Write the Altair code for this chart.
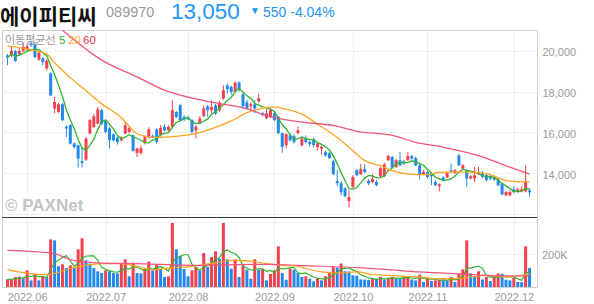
import altair as alt
import pandas as pd

# ---------------- data ----------------
opens = [19770,19790,19990,19840,20000,20080,20380,20330,19580,19640,
         19140,18900,17170,17000,17380,16270,16350,15460,15370,14580,
         14660,15940,16270,16430,17090,16600,16190,15900,15740,15610,
         15940,16020,15860,14990,14990,15480,15770,15830,16140,15860,
         16270,16100,16270,17000,17330,16760,16710,16600,16100,16430,
         16810,17280,17090,17330,17090,17660,18310,18230,17990,18450,
         17870,17480,17280,17380,17530,16940,16690,16760,16940,16760,
         15960,15370,15860,15810,15960,15370,15710,15530,15660,15280,
         15200,15020,14970,14580,13600,13500,13250,12630,13320,14140,
         13940,14190,13620,13560,13560,13840,13840,14630,14790,14300,
         14630,14580,14630,14830,14730,14380,13940,14050,13980,13560,
         13350,13780,13780,14140,14000,14870,14220,14140,13730,13730,
         13940,14000,13890,13840,13810,13680,13480,12910,12910,13200,
         13070,13100,13100,13150]
highs = [19850,20200,20050,20150,20400,20350,20500,20450,20000,19700,
         19600,18950,17740,17450,17450,16350,16400,15500,15400,15280,
         15750,16650,16900,17250,17150,16650,16250,15950,15800,15800,
         16500,16300,15900,15250,15350,15850,16250,15900,16200,16350,
         16400,16350,17580,17050,17400,16850,16800,16650,16350,16800,
         17330,17350,17580,17400,17550,18310,18400,18300,18500,18500,
         17950,17600,17480,17580,17900,17000,17150,17200,17050,16800,
         16000,15950,15950,15900,16300,15750,15850,15600,15750,15500,
         15350,15100,15050,14650,14140,13600,13300,13150,13900,14200,
         14450,14450,13700,13950,13650,14300,14500,14900,14850,14700,
         15040,14650,15040,14900,14800,14450,14150,14100,14050,13650,
         13500,13850,14050,14470,14200,14950,14450,14180,13900,14300,
         14300,14100,14000,13900,13900,13750,13500,13150,13150,13350,
         13300,13350,14380,13250]
lows = [19300,19700,19450,19800,19950,20000,20200,19650,19500,19300,
        19050,17780,16940,16950,16550,15770,15400,15200,14270,14270,
        14600,15900,16200,16400,16350,15950,15200,15550,15400,15550,
        15900,15950,15050,14790,14900,15400,15700,15700,15450,15800,
        16050,16050,16200,16700,16550,16550,16600,15940,15700,16400,
        16750,16760,16920,16850,17000,17600,17900,17850,17950,18000,
        17200,17100,16980,16950,17450,16800,16650,16700,16550,15900,
        15000,15200,15550,15450,15900,15300,15450,15300,15250,15100,
        14900,14800,14700,13900,13350,12900,12800,12300,13250,13850,
        13900,14000,13400,13500,13350,13800,13800,14600,14250,14250,
        14350,14400,14600,14650,14350,13700,13900,13750,13400,13350,
        13100,13600,13750,14000,13950,14350,14200,13320,13700,13550,
        13900,13750,13600,13650,13600,13350,12900,12850,12850,13000,
        13050,13050,13050,12830]
closes = [19680,20000,19510,20000,20200,20230,20280,19700,19900,19460,
          19510,17820,17490,17380,16600,16190,15450,15280,14710,14500,
          15700,16600,16790,17130,16430,16020,15610,15610,15530,15710,
          16350,16200,15090,15200,15220,15770,16140,15780,15530,16220,
          16100,16270,17090,16760,16600,16630,16640,16020,16270,16680,
          17170,17090,17250,16920,17460,18070,18120,17990,18450,18070,
          17280,17180,17380,17180,17680,16840,16940,17090,16600,15960,
          15280,15910,15610,15530,16100,15710,15530,15420,15370,15460,
          15280,14870,14730,13940,13500,13060,12860,12820,13810,13890,
          14190,14050,13490,13700,13400,14240,14430,14830,14270,14630,
          14380,14470,14830,14710,14380,13940,14050,13810,13840,13400,
          13450,13650,14000,14050,14140,14380,14380,13730,13840,13890,
          14050,13810,13650,13730,13680,13400,12960,13070,13070,13070,
          13200,13200,13600,13050]
volumes_k = [47,48,62,64,55,103,41,82,41,62,60,294,288,128,140,117,134,117,233,301,
             165,144,117,97,86,103,97,86,84,144,171,66,150,86,84,113,158,103,140,113,
             62,66,395,233,191,111,66,103,124,103,210,124,185,220,175,395,171,113,171,62,
             134,107,51,171,107,113,41,80,103,251,86,45,113,107,86,62,66,51,35,55,
             41,66,93,126,120,145,97,95,72,70,47,46,45,51,50,62,47,55,62,51,
             50,62,68,47,41,76,31,55,37,41,45,44,41,62,31,80,109,288,84,62,
             97,47,62,37,66,84,82,45,41,58,31,30,251,117]

# moving-average lines of the price panel, read at sample days
ma20_day = [0, 8, 10, 12, 16, 20, 24, 29, 33, 37, 41, 49, 53, 57, 61, 65, 68, 71, 75, 79,
            84, 88, 91, 95, 98, 102, 106, 110, 114, 119, 123, 127, 133]
ma20_val = [20250, 19970, 19850, 19420, 18690, 18040, 17400, 16730, 15930, 15750, 15780, 15990,
            16240, 16560, 16970, 17190, 17250, 17140, 16900, 16400, 15750, 15100, 14610, 14360,
            14120, 13950, 13920, 14030, 14060, 14030, 13920, 13630, 13550]
ma60_day = [14, 24, 33, 41, 44, 52, 61, 66, 75, 83, 89, 98, 104, 111, 120, 128, 133]
ma60_val = [21020, 19550, 18730, 18000, 17830, 17480, 17160, 16820, 16500, 16340, 16050, 15850,
            15510, 15270, 14860, 14290, 13950]

# moving-average lines of the volume panel (thousands), read at sample days
vma20_day = [0, 3, 8, 10, 12, 16, 20, 24, 29, 33, 37, 41, 45, 49, 54, 58, 62, 66, 70, 74, 76,
             80, 84, 89, 93, 97, 101, 105, 109, 114, 118, 122, 126, 130, 133]
vma20_val = [107, 93, 78, 77, 83, 114, 134, 144, 144, 128, 107, 117, 123, 134, 154, 165, 160,
             144, 134, 128, 114, 93, 86, 93, 77, 72, 66, 62, 52, 52, 62, 72, 62, 68, 83]
vma60_day = [0, 8, 12, 16, 24, 33, 41, 49, 58, 66, 74, 80, 89, 97, 105, 114, 122, 130, 133]
vma60_val = [226, 216, 206, 169, 148, 144, 138, 134, 138, 140, 134, 128, 120, 107, 93, 83, 72,
             68, 70]

month_day = [5, 25, 46, 68, 88, 107, 129]
month_label = ["2022.06", "2022.07", "2022.08", "2022.09", "2022.10", "2022.11", "2022.12"]
price_ticks = [12000, 14000, 16000, 18000, 20000]
volume_ticks = [200000, 400000]
volume_tick_labels = ["200K", ""]

stock_name = "에이피티씨"
stock_code = "089970"
last_price = "13,050"
change_arrow = "▼"
change_text = "550 -4.04%"
legend_title = "이동평균선"
legend_periods = ["5", "20", "60"]
watermark = "© PAXNet"

# ---------------- styling ----------------
RED = "#f2404e"
BLUE = "#2289ec"
GREEN = "#2fb52f"
ORANGE = "#ffa21f"
PINK = "#f2557a"
GRID = "#efefef"
LABEL = "#9a9a9a"
FONT = "Liberation Sans"
KFONT = "Noto Sans CJK KR"

n = len(closes)
df = pd.DataFrame({
    "i": list(range(n)),
    "open": opens, "high": highs, "low": lows, "close": closes,
    "vol": [v * 1000 for v in volumes_k],
})
df["dir"] = ["up" if c >= o else "down" for o, c in zip(opens, closes)]

ma20_df = pd.DataFrame({"i": ma20_day, "v": ma20_val})
ma60_df = pd.DataFrame({"i": ma60_day, "v": ma60_val})
vma20_df = pd.DataFrame({"i": vma20_day, "v": [v * 1000 for v in vma20_val]})
vma60_df = pd.DataFrame({"i": vma60_day, "v": [v * 1000 for v in vma60_val]})
vtick_df = pd.DataFrame({"t": volume_ticks, "lab": volume_tick_labels})

W = 535          # plot width
H = 257          # both panels together
H1 = 188         # price panel height (separator position)
xdom = [-0.125, 133.625]
price_dom = [8400, 21030]      # lower part of the range is taken by the volume panel
vol_dom = [0, 1586700]         # only the bottom 69 px are used by the volume panel

lab_expr = " : ".join(f"datum.value == {d} ? '{l}'" for d, l in zip(month_day, month_label)) + " : ''"

color = alt.Color("dir:N", scale=alt.Scale(domain=["up", "down"], range=[RED, BLUE]), legend=None)
xscale = alt.Scale(domain=xdom, nice=False, zero=False)

x_main = alt.X("i:Q", scale=xscale,
               axis=alt.Axis(values=month_day, grid=True, gridColor=GRID, ticks=False, domain=False,
                             labelExpr=lab_expr, labelColor=LABEL, labelFontSize=11, labelFont=FONT,
                             labelPadding=4, title=None))
y_price = alt.Y("low:Q", scale=alt.Scale(domain=price_dom, nice=False, zero=False),
                axis=alt.Axis(orient="right", values=price_ticks, grid=True, gridColor=GRID,
                              ticks=False, domain=False, labelColor=LABEL, labelFontSize=11,
                              labelFont=FONT, labelPadding=5, labelOffset=2, title=None,
                              labelExpr="datum.value == 12000 ? '' : format(datum.value, ',')"))

base = alt.Chart(df)
wicks = base.mark_rule(strokeWidth=1).encode(x=x_main, y=y_price, y2="high:Q", color=color)
bodies = base.mark_bar(size=3).encode(x="i:Q", y="open:Q", y2="close:Q", color=color)
ma5 = base.transform_window(ma="mean(close)", frame=[-4, 0], sort=[alt.SortField("i")]).mark_line(
    color=GREEN, strokeWidth=1.3).encode(x="i:Q", y="ma:Q")
ma20 = alt.Chart(ma20_df).mark_line(color=ORANGE, strokeWidth=1.3, interpolate="monotone").encode(
    x="i:Q", y="v:Q")
ma60 = alt.Chart(ma60_df).mark_line(color=PINK, strokeWidth=1.3, interpolate="monotone", clip=True).encode(
    x="i:Q", y="v:Q")
price_layer = alt.layer(wicks, bodies, ma5, ma20, ma60)

# volume bars: red when volume rose from the previous day, blue when it fell
vcolor = alt.Color("vdir:N", scale=alt.Scale(domain=["up", "down"], range=[RED, BLUE]), legend=None)
y_vol = alt.Y("vol:Q", scale=alt.Scale(domain=vol_dom, nice=False), axis=None)
vgrid = alt.Chart(vtick_df).mark_rule(color=GRID, strokeWidth=1).encode(
    y=alt.Y("t:Q", scale=alt.Scale(domain=vol_dom, nice=False), axis=None),
    x=alt.value(0), x2=alt.value(W))
vlabels = alt.Chart(vtick_df).mark_text(align="left", baseline="middle", dy=1, fontSize=11,
                                        font=FONT, color=LABEL, clip=False).encode(
    y="t:Q", x=alt.value(W + 5), text="lab:N")
vbars = base.transform_window(prev="lag(vol)", sort=[alt.SortField("i")]).transform_calculate(
    vdir="datum.prev == null || datum.vol >= datum.prev ? 'up' : 'down'").mark_bar(size=3).encode(
    x=alt.X("i:Q", scale=xscale), y=y_vol, color=vcolor)
vma5 = base.transform_window(ma="mean(vol)", frame=[-4, 0], sort=[alt.SortField("i")]).mark_line(
    color=GREEN, strokeWidth=1.2).encode(x="i:Q", y="ma:Q")
vma20 = alt.Chart(vma20_df).mark_line(color=ORANGE, strokeWidth=1.2, interpolate="monotone").encode(
    x="i:Q", y="v:Q")
vma60 = alt.Chart(vma60_df).mark_line(color=PINK, strokeWidth=1.2, interpolate="monotone").encode(
    x="i:Q", y="v:Q")
vol_layer = alt.layer(vgrid, vbars, vma5, vma20, vma60, vlabels)


def label(text, x, y, size, color, font=FONT, weight="normal", align="left"):
    return alt.Chart(pd.DataFrame({"t": [text]})).mark_text(
        fontSize=size, color=color, font=font, fontWeight=weight, align=align,
        baseline="alphabetic").encode(x=alt.value(x), y=alt.value(y), text="t:N")


separator = alt.Chart(pd.DataFrame({"a": [0]})).mark_rule(color="#3a3a3a", strokeWidth=1).encode(
    x=alt.value(0), x2=alt.value(W), y=alt.value(H1 - 0.5))

texts = [
    label(stock_name, -2, -6, 21, "#111111", font=KFONT, weight="bold"),
    label(stock_code, 104, -13, 14.5, "#999999"),
    label(last_price, 169, -11.5, 22.5, "#2196f3"),
    label(change_arrow, 248, -16, 10, "#2196f3"),
    label(change_text, 261, -13, 14, "#2196f3"),
    label(legend_title, 3, 14, 11, "#9a9a9a", font=KFONT),
    label(legend_periods[0], 57, 14, 11.5, GREEN),
    label(legend_periods[1], 66, 14, 11.5, ORANGE),
    label(legend_periods[2], 81, 14, 11.5, "#e8304f"),
    label(watermark, 3, 181, 17, "#c4c4c4", weight="bold"),
]

chart = alt.layer(price_layer, vol_layer, separator, *texts).resolve_scale(
    y="independent", color="independent").properties(
    width=W, height=H,
    padding={"left": 2, "top": 30, "right": 57, "bottom": 17},
    autosize=alt.AutoSizeParams(type="none"),
    background="white",
).configure_view(stroke="#cfcfcf", strokeWidth=1)

chart.save("out.html", embed_options={"renderer": "svg", "actions": False})
